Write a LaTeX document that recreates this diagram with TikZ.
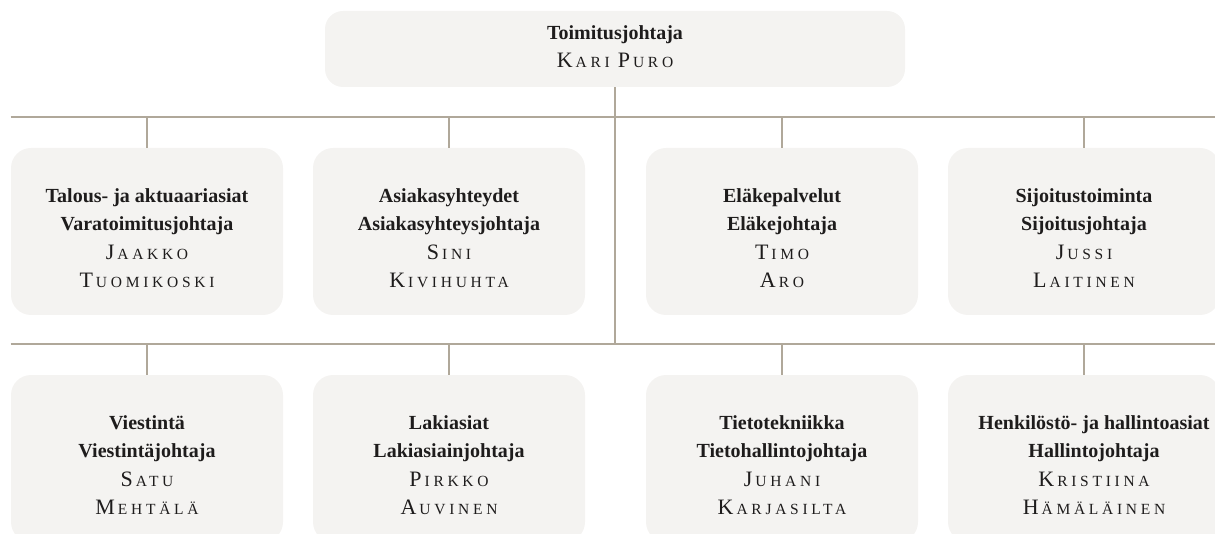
\documentclass[tikz,border=0pt]{standalone}
\usepackage{fontspec}
\setmainfont{Liberation Serif}
\definecolor{boxfill}{HTML}{F4F3F1}
\definecolor{linec}{HTML}{B0A89A}
\definecolor{txt}{HTML}{1E1C1C}
\newcommand\nm[2]{{\fontsize{22}{28.5}\selectfont#1\kern3pt\addfontfeature{LetterSpace=24}\fontsize{15.5}{28.5}\selectfont#2}}
\newcommand\hd[1]{{\bfseries #1}}
\begin{document}
\begin{tikzpicture}[x=1pt,y=-1pt,
  orgbox/.style={fill=boxfill, rounded corners=20pt, minimum width=272pt, minimum height=167pt, inner sep=0pt},
  orgtext/.style={align=center, text=txt, font=\fontsize{20}{28.5}\selectfont, inner sep=0pt},
  conn/.style={draw=linec, line width=1.3pt}]
\useasboundingbox (0,0) rectangle (1215,534);
\clip (0,0) rectangle (1215,534);
\node[orgbox, minimum width=580pt, minimum height=76pt, rounded corners=18pt] (ceo) at (615,49) {};
\node[orgtext] (ceot) at ([yshift=2.5pt]ceo.center) {\hd{Toimitusjohtaja}\\\nm{K}{ARI}\hspace{8pt}\nm{P}{URO}};
\node[orgbox] (a1) at (147,231.5) {};
\node[orgbox] (a2) at (449,231.5) {};
\node[orgbox] (a3) at (782,231.5) {};
\node[orgbox] (a4) at (1084,231.5) {};
\node[orgbox] (b1) at (147,458.5) {};
\node[orgbox] (b2) at (449,458.5) {};
\node[orgbox] (b3) at (782,458.5) {};
\node[orgbox] (b4) at (1084,458.5) {};
\node[orgtext] (a1t) at ([yshift=-6.5pt]a1.center) {\hd{Talous- ja aktuaariasiat}\\\hd{Varatoimitusjohtaja}\\\nm{J}{AAKKO}\\\nm{T}{UOMIKOSKI}};
\node[orgtext] (a2t) at ([yshift=-6.5pt]a2.center) {\hd{Asiakasyhteydet}\\\hd{Asiakasyhteysjohtaja}\\\nm{S}{INI}\\\nm{K}{IVIHUHTA}};
\node[orgtext] (a3t) at ([yshift=-6.5pt]a3.center) {\hd{Eläkepalvelut}\\\hd{Eläkejohtaja}\\\nm{T}{IMO}\\\nm{A}{RO}};
\node[orgtext] (a4t) at ([yshift=-6.5pt]a4.center) {\hd{Sijoitustoiminta}\\\hd{Sijoitusjohtaja}\\\nm{J}{USSI}\\\nm{L}{AITINEN}};
\node[orgtext] (b1t) at ([yshift=-6.5pt]b1.center) {\hd{Viestintä}\\\hd{Viestintäjohtaja}\\\nm{S}{ATU}\\\nm{M}{EHTÄLÄ}};
\node[orgtext] (b2t) at ([yshift=-6.5pt]b2.center) {\hd{Lakiasiat}\\\hd{Lakiasiainjohtaja}\\\nm{P}{IRKKO}\\\nm{A}{UVINEN}};
\node[orgtext] (b3t) at ([yshift=-6.5pt]b3.center) {\hd{Tietotekniikka}\\\hd{Tietohallintojohtaja}\\\nm{J}{UHANI}\\\nm{K}{ARJASILTA}};
\node[orgtext] (b4t) at ([xshift=10pt,yshift=-6.5pt]b4.center) {\hd{Henkilöstö- ja hallintoasiat}\\\hd{Hallintojohtaja}\\\nm{K}{RISTIINA}\\\nm{H}{ÄMÄLÄINEN}};
\coordinate (b1l) at (10.7,117); \coordinate (b1r) at (1215,117);
\coordinate (b2l) at (10.7,344); \coordinate (b2r) at (1215,344);
\draw[conn] (b1l) -- (b1r);
\draw[conn] (b2l) -- (b2r);
\draw[conn] (ceo.south) -- (ceo.south |- b2l);
\foreach \n in {a1,a2,a3,a4} \draw[conn] (\n.north) -- (\n.north |- b1l);
\foreach \n in {b1,b2,b3,b4} \draw[conn] (\n.north) -- (\n.north |- b2l);
\end{tikzpicture}
\end{document}
